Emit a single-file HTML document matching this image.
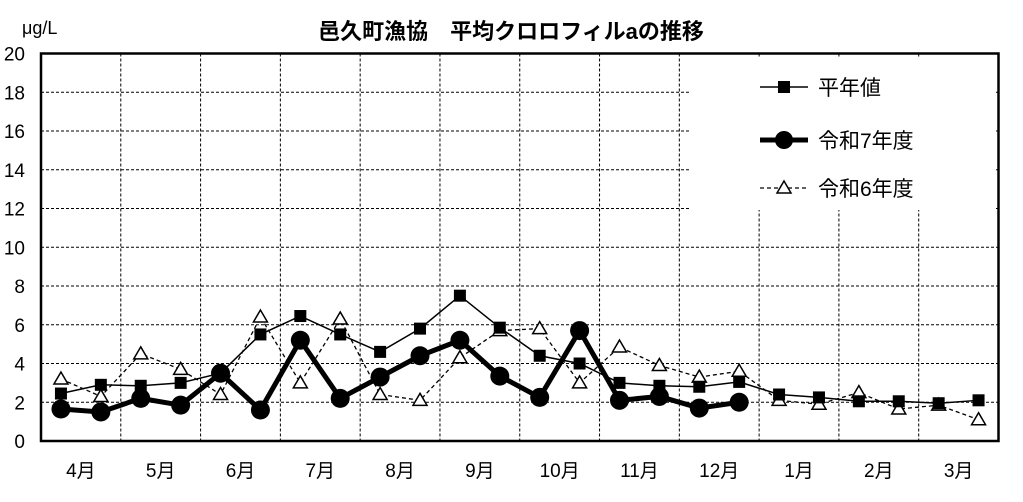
<!DOCTYPE html>
<html><head><meta charset="utf-8"><style>body{margin:0;background:#fff}</style></head><body>
<svg width="1023" height="497" xmlns="http://www.w3.org/2000/svg" font-family="'Liberation Sans','Noto Sans CJK JP',sans-serif">
<rect width="1023" height="497" fill="#fff"/>
<text x="511" y="39" font-size="22" font-weight="bold" text-anchor="middle">邑久町漁協　平均クロロフィルaの推移</text>
<text x="22" y="34" font-size="18">μg/L</text>
<g stroke="#000" stroke-width="1" stroke-dasharray="3,2" id="grid"></g>
<g id="ylab" font-size="19" text-anchor="end"></g>
<g id="xlab" font-size="19" text-anchor="middle"></g>
<rect x="690" y="58" width="306" height="152" fill="#fff"/>
<rect x="41" y="53.5" width="957.5" height="387.5" fill="none" stroke="#000" stroke-width="2.5"/>
<g id="series"></g>
<g font-size="21">
<line x1="760" y1="87" x2="808" y2="87" stroke="#000" stroke-width="1.5"/><rect x="778" y="81" width="12" height="12"/>
<text x="818" y="95">平年値</text>
<line x1="760" y1="140" x2="808" y2="140" stroke="#000" stroke-width="5"/><circle cx="784" cy="140" r="9"/>
<text x="818" y="148">令和7年度</text>
<line x1="760" y1="188" x2="808" y2="188" stroke="#000" stroke-width="1.2" stroke-dasharray="4,3"/><path d="M784,181 L791,193 L777,193Z" fill="#fff" stroke="#000" stroke-width="1.5"/>
<text x="818" y="196">令和6年度</text>
</g>
</svg>
<script>
const ns="http://www.w3.org/2000/svg";
function el(p,t,a){const e=document.createElementNS(ns,t);for(const k in a)e.setAttribute(k,a[k]);document.getElementById(p).appendChild(e);return e;}
const L=41,R=998.5,T=53.5,B=441,W=(R-L)/12;
const Y=v=>B-v*(B-T)/20;
for(let i=1;i<10;i++)el("grid","line",{x1:L,x2:R,y1:Y(i*2),y2:Y(i*2)});
for(let i=1;i<12;i++)el("grid","line",{x1:L+i*W,x2:L+i*W,y1:T,y2:B});
for(let i=0;i<=10;i++){el("ylab","text",{x:25,y:Y(i*2)+7}).textContent=i*2;}
const m=["4月","5月","6月","7月","8月","9月","10月","11月","12月","1月","2月","3月"];
m.forEach((s,i)=>{el("xlab","text",{x:L+i*W+W/2,y:477}).textContent=s;});
const X=i=>L+W/4+i*W/2;
const a=[2.45,2.9,2.85,3.0,3.5,5.5,6.45,5.5,4.6,5.8,7.5,5.85,4.4,4.0,3.0,2.85,2.8,3.05,2.4,2.25,2.05,2.05,1.95,2.1];
const c=[1.65,1.5,2.2,1.85,3.5,1.6,5.2,2.2,3.3,4.4,5.2,3.35,2.25,5.7,2.1,2.3,1.7,2.0];
const b=[3.2,2.3,4.5,3.7,2.4,6.4,3.0,6.3,2.4,2.1,4.3,5.7,5.8,3.0,4.85,3.9,3.3,3.6,2.1,1.9,2.5,1.65,1.85,1.1];
const pts=d=>d.map((v,i)=>X(i)+","+Y(v)).join(" ");
el("series","polyline",{points:pts(b),fill:"none",stroke:"#000","stroke-width":1.3,"stroke-dasharray":"4,3"});
el("series","polyline",{points:pts(a),fill:"none",stroke:"#000","stroke-width":1.5});
b.forEach((v,i)=>{const x=X(i),y=Y(v);el("series","path",{d:`M${x},${y-7}L${x+7},${y+5}L${x-7},${y+5}Z`,fill:"#fff",stroke:"#000","stroke-width":1.5});});
a.forEach((v,i)=>{el("series","rect",{x:X(i)-6,y:Y(v)-6,width:12,height:12,fill:"#000"});});
el("series","polyline",{points:pts(c),fill:"none",stroke:"#000","stroke-width":5});
c.forEach((v,i)=>{el("series","circle",{cx:X(i),cy:Y(v),r:9.5,fill:"#000"});});
</script>
</body></html>
